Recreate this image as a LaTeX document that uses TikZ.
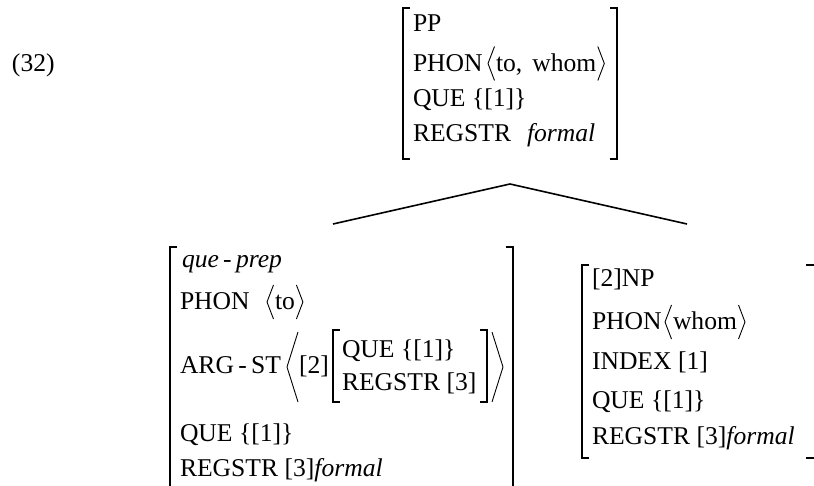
\documentclass[tikz,border=0pt]{standalone}
\usepackage{fontspec}
\setmainfont{Liberation Serif}
\newcommand\avmangles[1]{%
  \draw[ang] ([xshift=-1.5pt,yshift=25pt]#1.base west) -- ([xshift=-8pt,yshift=8pt]#1.base west) -- ([xshift=-1.5pt,yshift=-9pt]#1.base west);
  \draw[ang] ([xshift=1.5pt,yshift=25pt]#1.base east) -- ([xshift=8pt,yshift=8pt]#1.base east) -- ([xshift=1.5pt,yshift=-9pt]#1.base east);}
\begin{document}
\begin{tikzpicture}[x=1pt,y=-1pt,
  every node/.style={inner sep=0pt, outer sep=0pt, anchor=base west, font=\fontsize{25.6}{30}\selectfont},
  brk/.style={line width=1.2pt},
  ang/.style={line width=0.9pt},
  branch/.style={line width=1.6pt}]
\useasboundingbox (0,0) rectangle (814,486);

% example number
\node (ex) at (12,71.5) {(32)};

% ---- top AVM ----
\draw[brk] (410,8) -- (403,8) -- (403,159) -- (410,159);
\draw[brk] (610,8) -- (617,8) -- (617,159) -- (610,159);
\node (tpp) at (413,31.5) {PP};
\node (tphon) at (413,71.5) {PHON};
\node (ttw) at (496,71.5) {to,\hspace{10pt}whom};
\avmangles{ttw}
\node (tque) at (413,106.5) {QUE \{[1]\}};
\node (treg) at (413,141.5) {REGSTR};
\node (tform) at (527,141.5) {\itshape formal};

% ---- branches ----
\coordinate (apex) at (510,184);
\coordinate (lf) at (333,224);
\coordinate (rt) at (687,224);
\draw[branch] (lf) -- (apex) -- (rt);

% ---- left daughter AVM ----
\draw[brk] (177,247) -- (170,247) -- (170,490);
\draw[brk] (506,247) -- (513,247) -- (513,490);
\node (lqp) at (182,268) {\itshape que\,-\,prep};
\node (lphon) at (180,310) {PHON};
\node (lto) at (275,310) {to};
\avmangles{lto}
\node (larg) at (180,373) {ARG\,-\,ST};
\draw[ang] (298,332) -- (287,367) -- (298,402);
\node (ltag) at (299,373) {[2]};
\draw[brk] (340,330) -- (333,330) -- (333,402) -- (340,402);
\node (liq) at (342,357) {QUE \{[1]\}};
\node (lir) at (342,390) {REGSTR [3]};
\draw[brk] (480,330) -- (487,330) -- (487,402) -- (480,402);
\draw[ang] (492,332) -- (503,367) -- (492,402);
\node (lque) at (180,441) {QUE \{[1]\}};
\node (lreg) at (180,476) {REGSTR [3]\textit{formal}};

% ---- right daughter AVM ----
\draw[brk] (589,265) -- (582,265) -- (582,458) -- (589,458);
\draw[brk] (806,265) -- (815,265) -- (815,458) -- (806,458);
\node (rnp) at (592,287) {[2]NP};
\node (rphon) at (592,330) {PHON};
\node (rwh) at (673,330) {whom};
\avmangles{rwh}
\node (rind) at (592,370) {INDEX [1]};
\node (rque) at (592,408) {QUE \{[1]\}};
\node (rreg) at (592,444) {REGSTR [3]\textit{formal}};
\end{tikzpicture}
\end{document}
